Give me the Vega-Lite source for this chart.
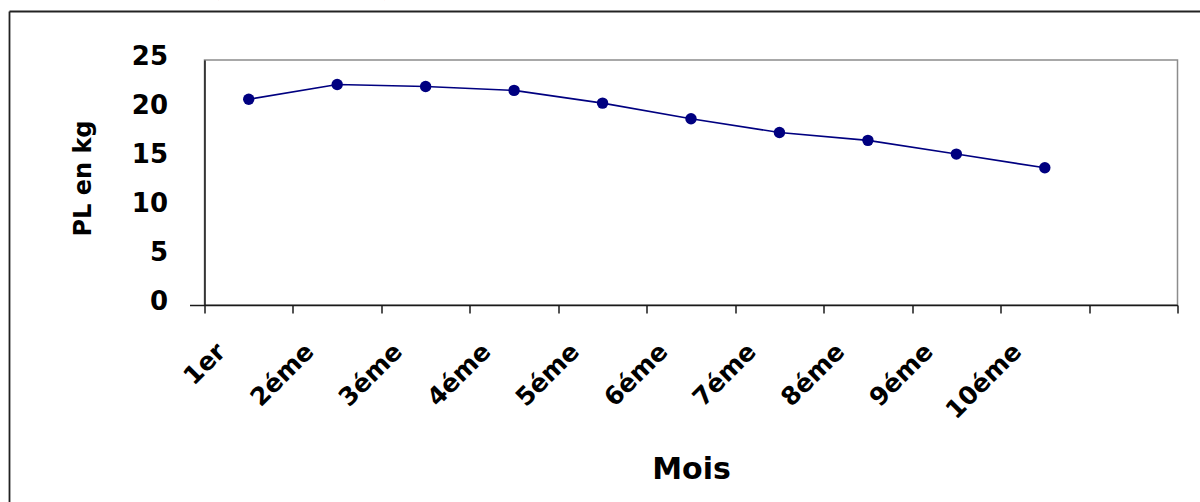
{
  "$schema": "https://vega.github.io/schema/vega-lite/v6.json",
  "width": 973,
  "height": 245,
  "autosize": "none",
  "padding": {"left": 204.5, "top": 60, "right": 22.5, "bottom": 197},
  "background": "white",
  "config": {
    "view": {"stroke": "#8c8c8c", "strokeWidth": 1.5, "fill": "white"},
    "font": "DejaVu Sans"
  },
  "data": {
    "values": [
      {"Mois": "1er", "PL": 21.0},
      {"Mois": "2éme", "PL": 22.5},
      {"Mois": "3éme", "PL": 22.3},
      {"Mois": "4éme", "PL": 21.9},
      {"Mois": "5éme", "PL": 20.6},
      {"Mois": "6éme", "PL": 19.0},
      {"Mois": "7éme", "PL": 17.6},
      {"Mois": "8éme", "PL": 16.8},
      {"Mois": "9éme", "PL": 15.4},
      {"Mois": "10éme", "PL": 14.0}
    ]
  },
  "layer": [
    {
      "description": "Outer chart box: its top and left edges are the domain lines of two label-less axes; the top one also carries the caption line above the box",
      "mark": {"type": "point", "opacity": 0},
      "encoding": {
        "x": {
          "field": "PL",
          "type": "quantitative",
          "scale": {"domain": [0, 25], "range": [-195.5, 995.5], "zero": false, "nice": false},
          "axis": {
            "orient": "top",
            "offset": 49,
            "domainColor": "#222222",
            "domainWidth": 1.8,
            "ticks": false,
            "labels": false,
            "grid": false,
            "title": "(en kg/mois)",
            "titleFont": "Liberation Serif",
            "titleFontSize": 37,
            "titleFontWeight": "normal",
            "titleColor": "black",
            "titleX": 2.5,
            "titleY": -20,
            "titleAlign": "left",
            "titleAnchor": "start",
            "titleBaseline": "alphabetic"
          }
        },
        "y": {
          "field": "PL",
          "type": "quantitative",
          "scale": {"domain": [0, 25], "range": [442, -49], "zero": false, "nice": false},
          "axis": {"orient": "left", "offset": 195.5, "domainColor": "#222222", "domainWidth": 1.8, "ticks": false, "labels": false, "grid": false, "title": null}
        }
      }
    },
    {
      "mark": {
        "type": "line",
        "color": "#000080",
        "strokeWidth": 1.6,
        "point": {"filled": true, "size": 130, "fill": "#000080", "opacity": 1}
      },
      "encoding": {
        "x": {
          "field": "Mois",
          "type": "nominal",
          "sort": null,
          "scale": {
            "type": "band",
            "domain": ["1er", "2éme", "3éme", "4éme", "5éme", "6éme", "7éme", "8éme", "9éme", "10éme", " "],
            "paddingInner": 0,
            "paddingOuter": 0
          },
          "axis": {
            "orient": "bottom",
            "title": "Mois",
            "titleFont": "DejaVu Sans",
            "titleFontSize": 30,
            "titleFontWeight": "bold",
            "titleColor": "black",
            "titleX": 486.5,
            "titleY": 149,
            "titleAlign": "center",
            "titleBaseline": "top",
            "labelAngle": -45,
            "labelAlign": "right",
            "labelBaseline": "middle",
            "labelFontSize": 25,
            "labelFontWeight": "bold",
            "labelColor": "black",
            "labelPadding": 34,
            "labelOffset": -28,
            "labelOverlap": false,
            "labelFlush": false,
            "tickBand": "extent",
            "tickSize": 8,
            "tickColor": "#1a1a1a",
            "tickWidth": 1.5,
            "domainColor": "#1a1a1a",
            "domainWidth": 1.5,
            "grid": false
          }
        },
        "y": {
          "field": "PL",
          "type": "quantitative",
          "scale": {"domain": [0, 25], "nice": false, "zero": true},
          "axis": {
            "orient": "left",
            "values": [0, 5, 10, 15, 20, 25],
            "title": "PL en kg",
            "titleFont": "DejaVu Sans",
            "titleFontSize": 24,
            "titleFontWeight": "bold",
            "titleColor": "black",
            "titleAngle": -90,
            "titleX": -114.5,
            "titleY": 118,
            "titleAlign": "center",
            "titleBaseline": "alphabetic",
            "labelFontSize": 26,
            "labelFontWeight": "bold",
            "labelColor": "black",
            "labelPadding": 22,
            "labelOffset": -3.5,
            "labelBaseline": "middle",
            "tickSize": 15,
            "tickColor": "#1a1a1a",
            "tickWidth": 1.5,
            "tickOpacity": {"condition": {"test": "datum.value === 0", "value": 1}, "value": 0},
            "domainColor": "#1a1a1a",
            "domainWidth": 1.5,
            "grid": false
          }
        }
      }
    }
  ],
  "resolve": {"scale": {"x": "independent", "y": "independent"}}
}
